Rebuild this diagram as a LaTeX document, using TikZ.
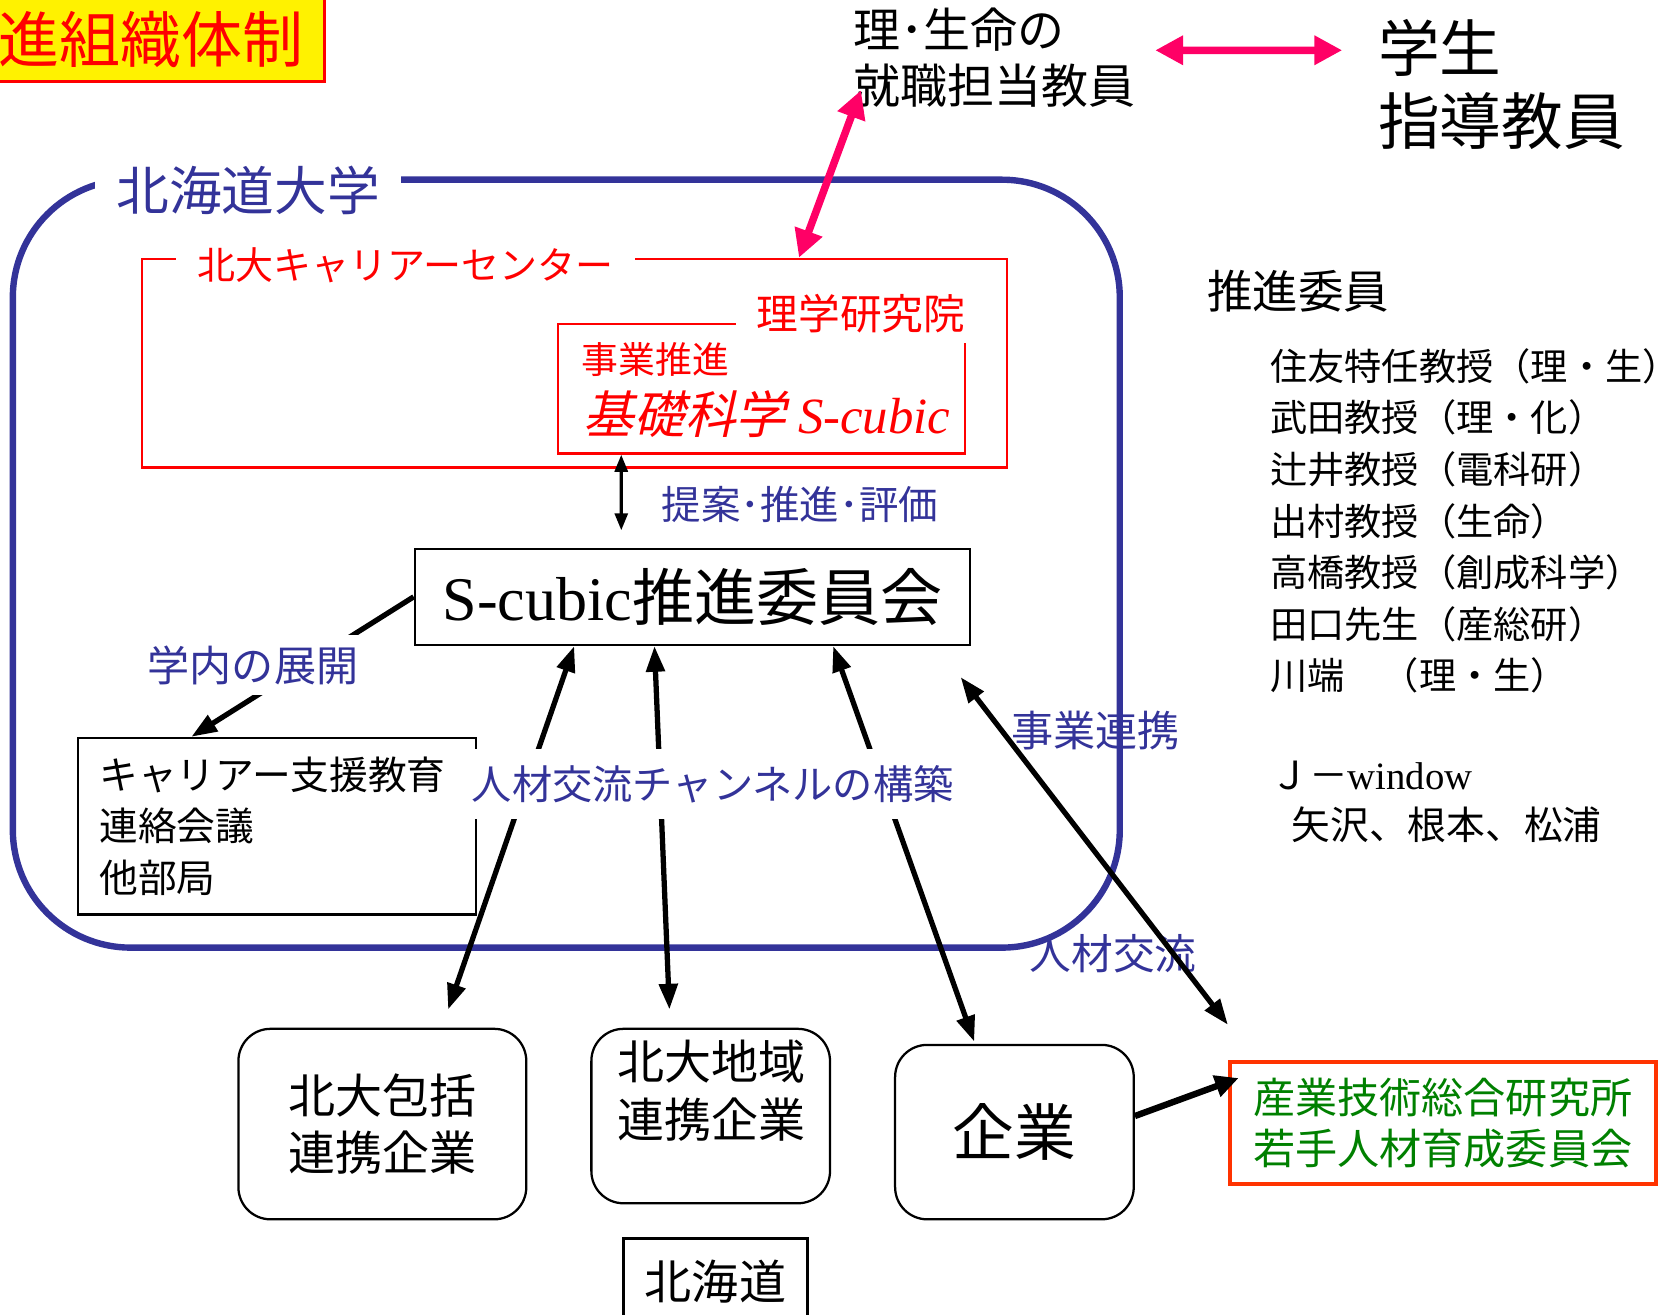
\documentclass[tikz,border=0pt]{standalone}
\usepackage{fontspec}
\setmainfont{Noto Sans CJK JP}
\newfontfamily\tms{Liberation Serif}
\newfontfamily\jpsl[FakeSlant=0.22]{Noto Sans CJK JP}
\usetikzlibrary{arrows.meta,calc}
\definecolor{hublue}{HTML}{333399}
\definecolor{hupink}{HTML}{FF0066}
\definecolor{hugreen}{HTML}{008000}
\definecolor{huorange}{HTML}{FF3300}
\newcommand{\fsz}[2]{\fontsize{#1pt}{#2pt}\selectfont}

\begin{document}
\begin{tikzpicture}[x=0.01cm, y=-0.01cm,
   txt/.style={inner sep=0pt, anchor=west, align=left},
   box/.style={draw, line width=0.6pt, inner sep=0pt},
   cobox/.style={draw, line width=0.6pt, rounded corners=0.3cm, inner sep=0pt, align=center},
   cover/.style={fill=white, inner xsep=0.2cm, inner ysep=0.1cm},
   arr/.style={line width=1.4pt, >={Triangle[length=0.24cm,width=0.17cm]}},
   pinkarr/.style={hupink, line width=2pt, >={Triangle[length=0.26cm,width=0.26cm]}, <->}]
\useasboundingbox (0,0) rectangle (1568,1229);

\node[draw=red, line width=0.8pt, fill=yellow, anchor=south east, minimum height=0.8cm,
      inner ysep=0pt, inner xsep=0.2cm, text=red, font=\fsz{16.2}{18}] (title) at (305,78) {進組織体制};

\draw[hublue, line width=1.7pt, rounded corners=1.1cm] (12,168) rectangle (1047,886);
\node[cover, text=hublue, font=\fsz{14}{16}] (hu) at (232,178) {北海道大学};

\node[box, draw=red, minimum width=8.08cm, minimum height=1.95cm] (hcc) at (537,339.5) {};
\node[cover, inner ysep=0.05cm, text=red, font=\fsz{10.1}{12}] (hcct) at (379,248) {北大キャリアーセンター};
\node[box, draw=red, minimum width=3.8cm, minimum height=1.21cm] (rika) at (712,363.5) {};
\node[cover, inner xsep=0.19cm, text=red, font=\fsz{11.1}{13}] (rikat) at (805,293) {理学研究院};
\node[txt, text=red, font=\fsz{9.8}{12}] (jigyo) at (543,336) {事業推進};
\node[txt, text=red, font=\fsz{13.5}{16}] (kiso) at (545,387) {\jpsl 基礎科学 {\tms\itshape S-cubic}};

\node[box, minimum width=5.19cm, minimum height=0.9cm, font=\fsz{16.5}{18}] (sc) at (647.5,558) {{\tms S-cubic}推進委員会};
\node[txt, text=hublue, font=\fsz{10.5}{12}] (teian) at (618,472) {提案･推進･評価};
\draw[arr, line width=0.9pt, >={Triangle[length=0.16cm,width=0.12cm]}, <->]
   ([xshift=0.6cm]rika.south west) -- ([xshift=1.94cm,yshift=0.16cm]sc.north west);

\node[box, minimum width=3.72cm, minimum height=1.65cm, text width=3.32cm, align=left,
      font=\fsz{10.3}{13.8}] (ca) at (259,772.5) {キャリアー支援教育\\連絡会議\\他部局};

\node[cobox, minimum width=2.69cm, minimum height=1.78cm, font=\fsz{12.5}{15}] (hk) at (357.5,1051) {北大包括\\連携企業};
\node[cobox, minimum width=2.23cm, minimum height=1.63cm] (ck) at (664.5,1043.5) {};
\node[txt, anchor=center, align=center, font=\fsz{12.5}{15.3}] (ckt) at (665,1020) {北大地域\\連携企業};
\node[cobox, minimum width=2.23cm, minimum height=1.63cm, font=\fsz{16.4}{18}] (ky) at (948.5,1058.5) {企業};
\node[box, anchor=north, minimum width=1.72cm, minimum height=0.8cm, font=\fsz{12.5}{15}] (hd) at (669,1157) {北海道};
\node[box, draw=huorange, line width=1pt, minimum width=3.98cm, minimum height=1.14cm, align=center,
      text=hugreen, font=\fsz{11.2}{13.7}] (aist) at (1349,1050) {産業技術総合研究所\\若手人材育成委員会};

\node[txt, text=hublue, font=\fsz{11.2}{13}] (renkei) at (945,683) {事業連携};
\node[txt, text=hublue, font=\fsz{11.1}{13}] (koryu) at (962,892) {人材交流};

\draw[arr, <->] ([xshift=1.5cm]sc.south west) -- ([xshift=1.97cm,yshift=0.17cm]hk.north west);
\draw[arr, <->] ([xshift=2.25cm]sc.south west) -- ([xshift=0.74cm,yshift=0.17cm]ck.north west);
\draw[arr, <->] ([xshift=3.92cm]sc.south west) -- ([xshift=0.75cm,yshift=0.02cm]ky.north west);
\draw[arr, <->] ([xshift=-0.1cm,yshift=-0.29cm]sc.south east) -- ([yshift=0.33cm]aist.north west);
\draw[arr, ->] (sc.west) -- ([xshift=1.07cm]ca.north west);
\draw[arr, line width=1.7pt, >={Triangle[length=0.22cm,width=0.2cm]}, ->]
   ([yshift=0.15cm]ky.east) -- ([xshift=0.1cm,yshift=0.42cm]aist.west);

\node[cover, inner xsep=0.1cm, text=hublue, font=\fsz{11.2}{13}] (tenkai) at (236.5,622) {学内の展開};
\node[cover, inner xsep=0.05cm, inner ysep=0.15cm, text=hublue, font=\fsz{10.7}{13}] (channel) at (666.5,733) {人材交流チャンネルの構築};

\node[txt, font=\fsz{12.5}{15}] (shoku) at (797,54) {理･生命の\\就職担当教員};
\node[txt, font=\fsz{16.4}{19.3}] (gakusei) at (1288,79) {学生\\指導教員};
\draw[pinkarr] ([xshift=0.18cm,yshift=0.07cm]shoku.east) -- ([xshift=-0.33cm,yshift=0.32cm]gakusei.west);
\draw[pinkarr] ([xshift=6.15cm]hcc.north west) -- ([xshift=0.08cm,yshift=0.17cm]shoku.south west);

\node[txt, font=\fsz{12.1}{14}] (suishin) at (1128,272) {推進委員};
\node[txt, font=\fsz{9.9}{13.7}] (members) at (1187,487)
   {住友特任教授（理・生）\\武田教授（理・化）\\辻井教授（電科研）\\出村教授（生命）\\高橋教授（創成科学）\\田口先生（産総研）\\川端　（理・生）};
\node[txt, font=\fsz{10.3}{13.2}] (jwin) at (1187,750) {Ｊ－{\tms window}\\\hspace*{0.2cm}矢沢、根本、松浦};

\end{tikzpicture}
\end{document}
